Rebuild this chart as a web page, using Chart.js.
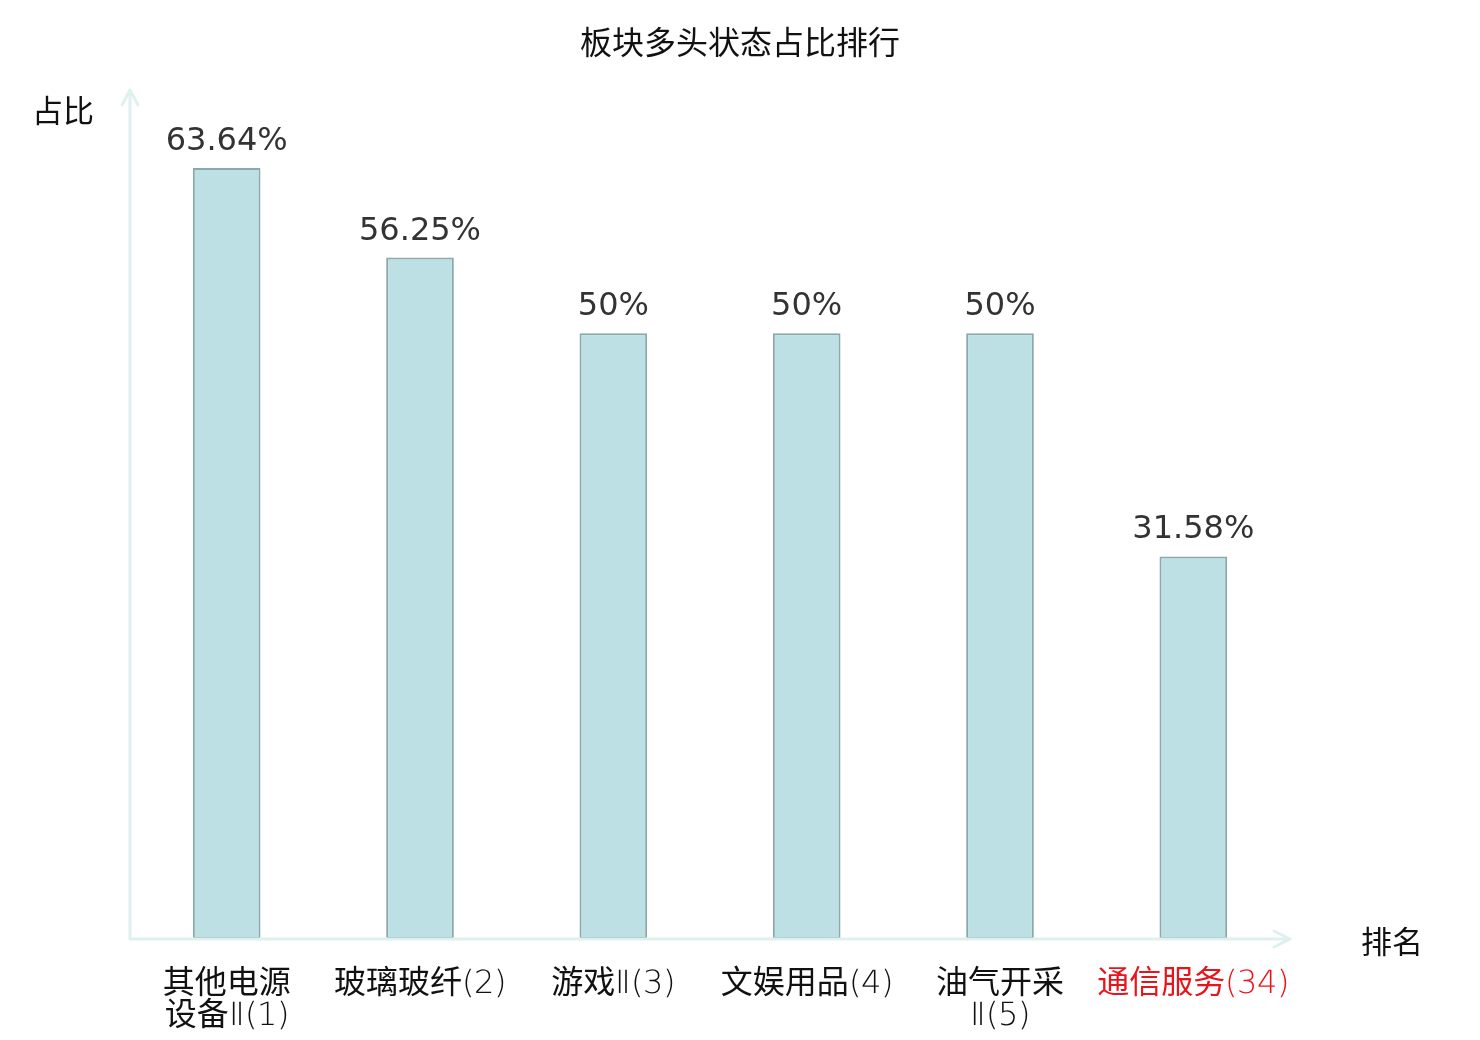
<!DOCTYPE html>
<html>
<head>
<meta charset="utf-8">
<script src="https://cdn.jsdelivr.net/npm/chart.js@4"></script>
<style>
  @font-face {
    font-family: "TickLatin";
    src: local("DejaVu Sans ExtraLight"), local("DejaVuSans-ExtraLight");
    unicode-range: U+0000-00FF, U+2160-2188;
  }
  html, body { margin: 0; padding: 0; background: #fff; }
  #chart { display: block; }
</style>
</head>
<body>
<canvas id="chart" width="1480" height="1040"></canvas>
<script>
const categories = [
    ["其他电源", "设备Ⅱ(1)"],
    "玻璃玻纤(2)",
    "游戏Ⅱ(3)",
    "文娱用品(4)",
    ["油气开采", "Ⅱ(5)"],
    "通信服务(34)",
];
const ratios = [63.64, 56.25, 50, 50, 50, 31.58];
const ratioLabels = ["63.64%", "56.25%", "50%", "50%", "50%", "31.58%"];
const highlightIndex = 5;
const chartTitle = "板块多头状态占比排行";

const axisColor = "#dff1ef";
const cjkFont = "'Noto Sans CJK SC', 'Noto Sans', sans-serif";
const tickFont = "TickLatin, 'Noto Sans CJK SC', sans-serif";

// title, axis arrows, axis names and value labels
const decorations = {
    id: "decorations",
    afterDatasetsDraw(chart) {
        const { ctx, chartArea } = chart;
        const { left, right, top, bottom } = chartArea;
        ctx.save();

        ctx.fillStyle = "#111";
        ctx.font = `32px ${cjkFont}`;
        ctx.textAlign = "center";
        ctx.textBaseline = "middle";
        ctx.fillText(chartTitle, chart.width / 2, 42);

        ctx.strokeStyle = axisColor;
        ctx.lineWidth = 3;
        ctx.lineCap = "round";
        ctx.lineJoin = "round";
        ctx.beginPath();
        ctx.moveTo(left, bottom);
        ctx.lineTo(left, top - 1);
        ctx.moveTo(left - 8, top + 14);
        ctx.lineTo(left, top - 1);
        ctx.lineTo(left + 8, top + 14);
        ctx.moveTo(left, bottom);
        ctx.lineTo(right, bottom);
        ctx.moveTo(right - 16, bottom - 8);
        ctx.lineTo(right, bottom);
        ctx.lineTo(right - 16, bottom + 8);
        ctx.stroke();

        ctx.fillStyle = "#111";
        ctx.font = `31px ${cjkFont}`;
        ctx.fillText("占比", left - 67, top + 19);
        ctx.fillText("排名", right + 102, bottom + 2);

        const meta = chart.getDatasetMeta(0);
        ctx.fillStyle = "#333";
        ctx.font = "32px 'DejaVu Sans', sans-serif";
        ctx.textBaseline = "alphabetic";
        meta.data.forEach((bar, i) => {
            ctx.fillText(ratioLabels[i], bar.x, bar.y - 18);
        });
        ctx.restore();
    },
};

const config = {
    type: "bar",
    data: {
        labels: categories,
        datasets: [
            {
                data: ratios,
                backgroundColor: "#bce0e3",
                borderColor: "#8aa9aa",
                borderWidth: 2,
                borderSkipped: false,
                categoryPercentage: 1,
                barPercentage: 0.35,
            },
        ],
    },
    options: {
        responsive: false,
        devicePixelRatio: 1,
        animation: false,
        layout: { padding: { left: 0, right: 190, top: 91, bottom: 0 } },
        plugins: {
            legend: { display: false },
            tooltip: { enabled: false },
            title: { display: false },
        },
        scales: {
            x: {
                grid: { display: false, drawTicks: false },
                border: { display: false },
                ticks: {
                    padding: 30,
                    maxRotation: 0,
                    autoSkip: false,
                    color: (c) => (c.index === highlightIndex ? "#e8141c" : "#111"),
                    font: { family: tickFont, size: 32, lineHeight: 1.0 },
                },
                afterFit(scale) {
                    scale.height = 101;
                },
            },
            y: {
                min: 0,
                max: 70,
                grid: { display: false, drawTicks: false },
                border: { display: false },
                ticks: { display: false },
                afterFit(scale) {
                    scale.width = 130;
                },
            },
        },
    },
    plugins: [decorations],
};

document.fonts.load("32px TickLatin", "Ⅱ(1)")
    .catch(() => null)
    .then(() => {
        new Chart(document.getElementById("chart"), config);
    });
</script>
</body>
</html>
